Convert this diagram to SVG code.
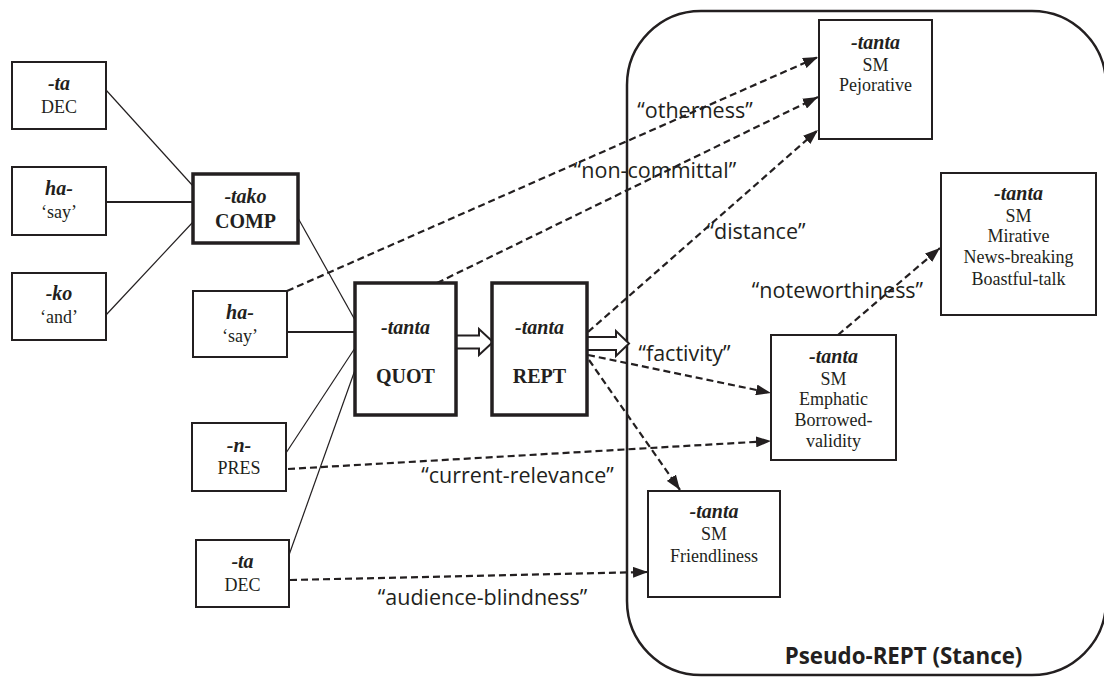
<svg xmlns="http://www.w3.org/2000/svg" width="1104" height="677" viewBox="0 0 1104 677">
<style>
  .box { fill: #fff; stroke: #231f20; stroke-width: 2; }
  .thick { fill: #fff; stroke: #231f20; stroke-width: 3.5; }
  .t { font-family: "Liberation Serif", "Times New Roman", serif; font-size: 18px; fill: #231f20; text-anchor: middle; }
  .bi { font-weight: bold; font-style: italic; font-size: 20px; }
  .b { font-weight: bold; font-size: 20px; }
  .lbl { font-family: "Open Sans", "Noto Sans", sans-serif; font-size: 21.5px; fill: #231f20; text-anchor: middle; }
  .solid { stroke: #231f20; stroke-width: 1.2; fill: none; }
  .solid2 { stroke: #231f20; stroke-width: 2; fill: none; }
  .dash { stroke: #231f20; stroke-width: 2.2; stroke-dasharray: 7 4; fill: none; marker-end: url(#ah); }
  .hollow { fill: #fff; stroke: #231f20; stroke-width: 2; stroke-linejoin: miter; }
</style>
<defs>
  <marker id="ah" markerUnits="userSpaceOnUse" viewBox="0 0 15 11" markerWidth="15" markerHeight="11" refX="15" refY="5.5" orient="auto">
    <path d="M0,0 L15,5.5 L0,11 z" fill="#231f20"/>
  </marker>
</defs>
<rect width="1104" height="677" fill="#fff"/>

<g id="pseudo-rept">
  <rect x="627" y="11" width="479" height="664" rx="74" ry="74" fill="none" stroke="#231f20" stroke-width="2.5"/>
  <text x="903.5" y="664" style="font-family:'Open Sans','Noto Sans',sans-serif;font-size:22.3px;font-weight:bold;fill:#231f20;text-anchor:middle">Pseudo-REPT (Stance)</text>
</g>

<g id="connectors">
  <line class="solid" x1="106" y1="90" x2="193" y2="186"/>
  <line class="solid2" x1="106" y1="202" x2="193" y2="202"/>
  <line class="solid" x1="106" y1="315" x2="193" y2="222"/>
  <line class="solid" x1="298" y1="218" x2="355" y2="320"/>
  <line class="solid2" x1="287" y1="332" x2="355" y2="332"/>
  <line class="solid" x1="286" y1="453" x2="355" y2="348"/>
  <line class="solid" x1="289" y1="555" x2="355" y2="370"/>

  <path class="hollow" d="M456,335.5 L479,335.5 L479,329 L493,342 L479,355 L479,348.5 L456,348.5 Z"/>
  <path class="hollow" d="M587,337 L616,337 L616,331 L629,343.5 L616,356 L616,350 L587,350 Z"/>

  <line class="dash" x1="287" y1="291" x2="818" y2="57"/>
  <line class="dash" x1="437" y1="283" x2="818" y2="97"/>
  <line class="dash" x1="588" y1="332" x2="818" y2="130"/>
  <line class="dash" x1="588" y1="355" x2="771" y2="393"/>
  <line class="dash" x1="589" y1="360" x2="680" y2="490"/>
  <line class="dash" x1="838" y1="335" x2="940" y2="248"/>
  <line class="dash" x1="288" y1="469" x2="771" y2="441"/>
  <line class="dash" x1="290" y1="580" x2="648" y2="572"/>

  <text class="lbl" x="695" y="118">“otherness”</text>
  <text class="lbl" x="655" y="178">“non-committal”</text>
  <text class="lbl" x="756" y="239">“distance”</text>
  <text class="lbl" x="837.5" y="298">“noteworthiness”</text>
  <text class="lbl" x="684.5" y="361">“factivity”</text>
  <text class="lbl" x="517.5" y="483">“current-relevance”</text>
  <text class="lbl" x="482.5" y="605">“audience-blindness”</text>
</g>

<g id="ta-dec-1">
  <rect class="box" x="12" y="62" width="94" height="67"/>
  <text class="t bi" x="59" y="90">-ta</text>
  <text class="t" x="59" y="113">DEC</text>
</g>
<g id="ha-say-1">
  <rect class="box" x="12" y="167" width="94" height="68"/>
  <text class="t bi" x="59" y="195">ha-</text>
  <text class="t" x="59" y="218">‘say’</text>
</g>
<g id="ko-and">
  <rect class="box" x="12" y="273" width="94" height="67"/>
  <text class="t bi" x="59" y="300">-ko</text>
  <text class="t" x="59" y="323">‘and’</text>
</g>
<g id="tako-comp">
  <rect class="thick" x="193" y="174" width="105" height="69"/>
  <text class="t bi" x="245.5" y="203">-tako</text>
  <text class="t b" x="245.5" y="228">COMP</text>
</g>
<g id="ha-say-2">
  <rect class="box" x="193" y="291" width="94" height="66"/>
  <text class="t bi" x="240" y="319">ha-</text>
  <text class="t" x="240" y="342">‘say’</text>
</g>
<g id="n-pres">
  <rect class="box" x="192" y="423" width="94" height="68"/>
  <text class="t bi" x="239" y="452">-n-</text>
  <text class="t" x="239" y="474">PRES</text>
</g>
<g id="ta-dec-2">
  <rect class="box" x="196" y="540" width="93" height="67"/>
  <text class="t bi" x="242.5" y="568">-ta</text>
  <text class="t" x="242.5" y="591">DEC</text>
</g>
<g id="quot">
  <rect class="thick" x="355" y="283" width="101" height="132"/>
  <text class="t bi" x="405.5" y="334">-tanta</text>
  <text class="t b" x="405.5" y="383">QUOT</text>
</g>
<g id="rept">
  <rect class="thick" x="492" y="283" width="95" height="132"/>
  <text class="t bi" x="539.5" y="334">-tanta</text>
  <text class="t b" x="539.5" y="383">REPT</text>
</g>
<g id="sm-pejorative">
  <rect class="box" x="819" y="20" width="113" height="119"/>
  <text class="t bi" x="875.5" y="49">-tanta</text>
  <text class="t" x="875.5" y="71">SM</text>
  <text class="t" x="875.5" y="91">Pejorative</text>
</g>
<g id="sm-mirative">
  <rect class="box" x="941" y="173" width="155" height="142"/>
  <text class="t bi" x="1018.5" y="200">-tanta</text>
  <text class="t" x="1018.5" y="222">SM</text>
  <text class="t" x="1018.5" y="242">Mirative</text>
  <text class="t" x="1018.5" y="263">News-breaking</text>
  <text class="t" x="1018.5" y="285">Boastful-talk</text>
</g>
<g id="sm-emphatic">
  <rect class="box" x="771" y="335" width="125" height="125"/>
  <text class="t bi" x="833.5" y="363">-tanta</text>
  <text class="t" x="833.5" y="385">SM</text>
  <text class="t" x="833.5" y="405">Emphatic</text>
  <text class="t" x="833.5" y="426">Borrowed-</text>
  <text class="t" x="833.5" y="447">validity</text>
</g>
<g id="sm-friendliness">
  <rect class="box" x="648" y="491" width="132" height="106"/>
  <text class="t bi" x="714" y="518">-tanta</text>
  <text class="t" x="714" y="540">SM</text>
  <text class="t" x="714" y="562">Friendliness</text>
</g>
</svg>
